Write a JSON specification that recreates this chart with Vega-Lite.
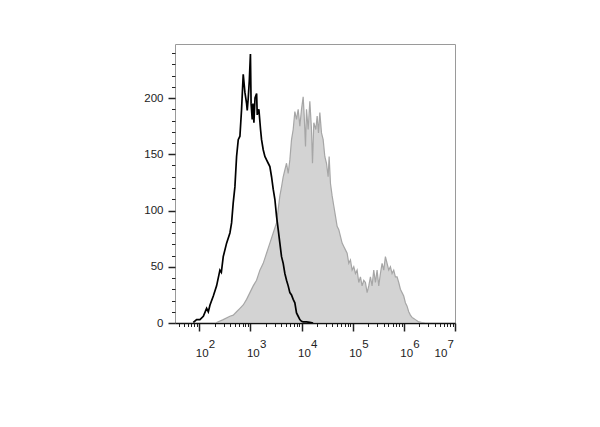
{
  "$schema": "https://vega.github.io/schema/vega-lite/v6.json",
  "width": 280,
  "height": 279,
  "autosize": {"type": "none"},
  "padding": {"left": 175, "top": 44, "right": 145, "bottom": 104},
  "background": "white",
  "config": {
    "view": {"stroke": "#9a9a9a", "strokeWidth": 1},
    "font": "Liberation Sans"
  },
  "data": {
    "values": [
      {"sample": "stained", "intensity": 218, "count": 0.5},
      {"sample": "stained", "intensity": 294, "count": 3},
      {"sample": "stained", "intensity": 397, "count": 6},
      {"sample": "stained", "intensity": 461, "count": 7},
      {"sample": "stained", "intensity": 536, "count": 10},
      {"sample": "stained", "intensity": 623, "count": 13},
      {"sample": "stained", "intensity": 723, "count": 16},
      {"sample": "stained", "intensity": 841, "count": 21},
      {"sample": "stained", "intensity": 977, "count": 27},
      {"sample": "stained", "intensity": 1134, "count": 33},
      {"sample": "stained", "intensity": 1318, "count": 38},
      {"sample": "stained", "intensity": 1531, "count": 47},
      {"sample": "stained", "intensity": 1778, "count": 53},
      {"sample": "stained", "intensity": 2066, "count": 62},
      {"sample": "stained", "intensity": 2400, "count": 71},
      {"sample": "stained", "intensity": 2788, "count": 80},
      {"sample": "stained", "intensity": 3239, "count": 89},
      {"sample": "stained", "intensity": 3491, "count": 101},
      {"sample": "stained", "intensity": 3763, "count": 113},
      {"sample": "stained", "intensity": 4056, "count": 121},
      {"sample": "stained", "intensity": 4372, "count": 130},
      {"sample": "stained", "intensity": 4712, "count": 136},
      {"sample": "stained", "intensity": 5079, "count": 142},
      {"sample": "stained", "intensity": 5474, "count": 133},
      {"sample": "stained", "intensity": 5900, "count": 145},
      {"sample": "stained", "intensity": 6359, "count": 163},
      {"sample": "stained", "intensity": 6854, "count": 172},
      {"sample": "stained", "intensity": 7388, "count": 188},
      {"sample": "stained", "intensity": 7962, "count": 181},
      {"sample": "stained", "intensity": 8582, "count": 190},
      {"sample": "stained", "intensity": 9250, "count": 175},
      {"sample": "stained", "intensity": 9970, "count": 190},
      {"sample": "stained", "intensity": 10746, "count": 201},
      {"sample": "stained", "intensity": 11236, "count": 185},
      {"sample": "stained", "intensity": 11937, "count": 157},
      {"sample": "stained", "intensity": 12484, "count": 190},
      {"sample": "stained", "intensity": 13455, "count": 172},
      {"sample": "stained", "intensity": 14506, "count": 197},
      {"sample": "stained", "intensity": 15631, "count": 172},
      {"sample": "stained", "intensity": 16350, "count": 142},
      {"sample": "stained", "intensity": 17357, "count": 178},
      {"sample": "stained", "intensity": 18992, "count": 172},
      {"sample": "stained", "intensity": 20170, "count": 184},
      {"sample": "stained", "intensity": 21418, "count": 169},
      {"sample": "stained", "intensity": 22752, "count": 187},
      {"sample": "stained", "intensity": 24522, "count": 169},
      {"sample": "stained", "intensity": 26424, "count": 163},
      {"sample": "stained", "intensity": 28475, "count": 148},
      {"sample": "stained", "intensity": 30690, "count": 142},
      {"sample": "stained", "intensity": 33073, "count": 130},
      {"sample": "stained", "intensity": 34596, "count": 148},
      {"sample": "stained", "intensity": 36734, "count": 124},
      {"sample": "stained", "intensity": 39592, "count": 113},
      {"sample": "stained", "intensity": 42676, "count": 104},
      {"sample": "stained", "intensity": 46000, "count": 95},
      {"sample": "stained", "intensity": 49573, "count": 86},
      {"sample": "stained", "intensity": 53436, "count": 83},
      {"sample": "stained", "intensity": 57598, "count": 77},
      {"sample": "stained", "intensity": 62087, "count": 71},
      {"sample": "stained", "intensity": 66910, "count": 68},
      {"sample": "stained", "intensity": 72127, "count": 65},
      {"sample": "stained", "intensity": 77732, "count": 62},
      {"sample": "stained", "intensity": 83784, "count": 53},
      {"sample": "stained", "intensity": 90298, "count": 56},
      {"sample": "stained", "intensity": 97343, "count": 47},
      {"sample": "stained", "intensity": 104905, "count": 50},
      {"sample": "stained", "intensity": 113084, "count": 44},
      {"sample": "stained", "intensity": 121880, "count": 47},
      {"sample": "stained", "intensity": 131382, "count": 36},
      {"sample": "stained", "intensity": 141579, "count": 41},
      {"sample": "stained", "intensity": 152615, "count": 33},
      {"sample": "stained", "intensity": 164471, "count": 38},
      {"sample": "stained", "intensity": 177296, "count": 36},
      {"sample": "stained", "intensity": 191120, "count": 27},
      {"sample": "stained", "intensity": 205970, "count": 33},
      {"sample": "stained", "intensity": 222000, "count": 41},
      {"sample": "stained", "intensity": 239270, "count": 33},
      {"sample": "stained", "intensity": 257900, "count": 47},
      {"sample": "stained", "intensity": 277970, "count": 36},
      {"sample": "stained", "intensity": 299630, "count": 47},
      {"sample": "stained", "intensity": 322920, "count": 33},
      {"sample": "stained", "intensity": 348100, "count": 44},
      {"sample": "stained", "intensity": 375180, "count": 53},
      {"sample": "stained", "intensity": 404430, "count": 47},
      {"sample": "stained", "intensity": 435860, "count": 59},
      {"sample": "stained", "intensity": 469850, "count": 53},
      {"sample": "stained", "intensity": 506340, "count": 47},
      {"sample": "stained", "intensity": 545810, "count": 50},
      {"sample": "stained", "intensity": 588210, "count": 44},
      {"sample": "stained", "intensity": 634070, "count": 47},
      {"sample": "stained", "intensity": 683340, "count": 41},
      {"sample": "stained", "intensity": 736620, "count": 41},
      {"sample": "stained", "intensity": 793870, "count": 36},
      {"sample": "stained", "intensity": 855750, "count": 30},
      {"sample": "stained", "intensity": 922260, "count": 27},
      {"sample": "stained", "intensity": 994030, "count": 24},
      {"sample": "stained", "intensity": 1071300, "count": 18},
      {"sample": "stained", "intensity": 1154800, "count": 15},
      {"sample": "stained", "intensity": 1244800, "count": 10},
      {"sample": "stained", "intensity": 1341600, "count": 7},
      {"sample": "stained", "intensity": 1446200, "count": 5},
      {"sample": "stained", "intensity": 1558600, "count": 4},
      {"sample": "stained", "intensity": 1680100, "count": 3},
      {"sample": "stained", "intensity": 1810700, "count": 2},
      {"sample": "stained", "intensity": 1952000, "count": 1},
      {"sample": "stained", "intensity": 2200000, "count": 0.5},
      {"sample": "stained", "intensity": 2556000, "count": 0},
      {"sample": "control", "intensity": 76.4, "count": 0.5},
      {"sample": "control", "intensity": 88.7, "count": 3},
      {"sample": "control", "intensity": 103, "count": 3},
      {"sample": "control", "intensity": 120, "count": 6},
      {"sample": "control", "intensity": 139, "count": 13},
      {"sample": "control", "intensity": 150, "count": 10},
      {"sample": "control", "intensity": 162, "count": 16},
      {"sample": "control", "intensity": 188, "count": 24},
      {"sample": "control", "intensity": 218, "count": 33},
      {"sample": "control", "intensity": 253, "count": 47},
      {"sample": "control", "intensity": 270, "count": 45},
      {"sample": "control", "intensity": 294, "count": 59},
      {"sample": "control", "intensity": 342, "count": 71},
      {"sample": "control", "intensity": 397, "count": 80},
      {"sample": "control", "intensity": 428, "count": 89},
      {"sample": "control", "intensity": 461, "count": 107},
      {"sample": "control", "intensity": 497, "count": 121},
      {"sample": "control", "intensity": 536, "count": 148},
      {"sample": "control", "intensity": 578, "count": 163},
      {"sample": "control", "intensity": 623, "count": 166},
      {"sample": "control", "intensity": 671, "count": 190},
      {"sample": "control", "intensity": 723, "count": 221},
      {"sample": "control", "intensity": 780, "count": 205},
      {"sample": "control", "intensity": 841, "count": 195},
      {"sample": "control", "intensity": 866, "count": 189},
      {"sample": "control", "intensity": 906, "count": 200},
      {"sample": "control", "intensity": 950, "count": 215},
      {"sample": "control", "intensity": 1000, "count": 239},
      {"sample": "control", "intensity": 1030, "count": 195},
      {"sample": "control", "intensity": 1084, "count": 181},
      {"sample": "control", "intensity": 1120, "count": 195},
      {"sample": "control", "intensity": 1169, "count": 178},
      {"sample": "control", "intensity": 1230, "count": 200},
      {"sample": "control", "intensity": 1321, "count": 204},
      {"sample": "control", "intensity": 1358, "count": 185},
      {"sample": "control", "intensity": 1463, "count": 190},
      {"sample": "control", "intensity": 1577, "count": 172},
      {"sample": "control", "intensity": 1650, "count": 163},
      {"sample": "control", "intensity": 1778, "count": 154},
      {"sample": "control", "intensity": 1917, "count": 148},
      {"sample": "control", "intensity": 2066, "count": 145},
      {"sample": "control", "intensity": 2227, "count": 142},
      {"sample": "control", "intensity": 2400, "count": 139},
      {"sample": "control", "intensity": 2587, "count": 130},
      {"sample": "control", "intensity": 2788, "count": 119},
      {"sample": "control", "intensity": 3005, "count": 110},
      {"sample": "control", "intensity": 3239, "count": 95},
      {"sample": "control", "intensity": 3491, "count": 83},
      {"sample": "control", "intensity": 3763, "count": 71},
      {"sample": "control", "intensity": 4056, "count": 59},
      {"sample": "control", "intensity": 4372, "count": 53},
      {"sample": "control", "intensity": 4712, "count": 44},
      {"sample": "control", "intensity": 5079, "count": 38},
      {"sample": "control", "intensity": 5474, "count": 33},
      {"sample": "control", "intensity": 5900, "count": 27},
      {"sample": "control", "intensity": 6359, "count": 25},
      {"sample": "control", "intensity": 6854, "count": 21},
      {"sample": "control", "intensity": 7388, "count": 18},
      {"sample": "control", "intensity": 7962, "count": 9},
      {"sample": "control", "intensity": 8582, "count": 6},
      {"sample": "control", "intensity": 9250, "count": 3},
      {"sample": "control", "intensity": 9970, "count": 1.5},
      {"sample": "control", "intensity": 10746, "count": 1},
      {"sample": "control", "intensity": 12484, "count": 1},
      {"sample": "control", "intensity": 14506, "count": 0.5},
      {"sample": "control", "intensity": 16852, "count": 0}
    ]
  },
  "encoding": {
    "y": {
      "field": "count",
      "type": "quantitative",
      "scale": {"domain": [0, 248], "nice": false, "zero": true},
      "axis": {
        "title": null,
        "grid": false,
        "domain": false,
        "values": [0, 10, 20, 30, 40, 50, 60, 70, 80, 90, 100, 110, 120, 130, 140, 150, 160, 170, 180, 190, 200, 210, 220, 230, 240],
        "labelExpr": "datum.value % 50 == 0 ? datum.label : ''",
        "labelFontSize": 11.5,
        "labelColor": "#222222",
        "labelPadding": 5,
        "labelOverlap": false,
        "tickColor": "#222222",
        "tickSize": {"condition": {"test": "datum.value % 50 == 0", "value": 7}, "value": 3.5},
        "tickWidth": {"condition": {"test": "datum.value % 50 == 0", "value": 1.5}, "value": 1}
      }
    }
  },
  "resolve": {"axis": {"x": "independent"}},
  "layer": [
    {
      "transform": [{"filter": "datum.sample == 'stained'"}],
      "mark": {"type": "area", "fill": "#d3d3d3", "stroke": "#a6a6a6", "strokeWidth": 1.2, "clip": true},
      "encoding": {
        "x": {
          "field": "intensity",
          "type": "quantitative",
          "scale": {"type": "log", "domain": [33.5, 10000000], "nice": false},
          "axis": {
            "orient": "bottom",
            "title": null,
            "grid": false,
            "values": [40, 50, 60, 70, 80, 90, 100, 200, 300, 400, 500, 600, 700, 800, 900, 1000, 2000, 3000, 4000, 5000, 6000, 7000, 8000, 9000, 10000, 20000, 30000, 40000, 50000, 60000, 70000, 80000, 90000, 100000, 200000, 300000, 400000, 500000, 600000, 700000, 800000, 900000, 1000000, 2000000, 3000000, 4000000, 5000000, 6000000, 7000000, 8000000, 9000000, 10000000],
            "labelExpr": "abs(log(datum.value)/LN10 - round(log(datum.value)/LN10)) < 0.01 ? '10' : ''",
            "labelAlign": "left",
            "labelBaseline": "middle",
            "labelOffset": {"condition": {"test": "datum.value > 5000000", "value": -21}, "value": -4},
            "labelFontSize": 11.5,
            "labelColor": "#222222",
            "labelPadding": 22,
            "labelOverlap": false,
            "labelBound": false,
            "labelFlush": false,
            "domainColor": "#111111",
            "domainWidth": 1.5,
            "tickColor": "#222222",
            "tickSize": {"condition": {"test": "abs(log(datum.value)/LN10 - round(log(datum.value)/LN10)) < 0.01", "value": 8}, "value": 3.5},
            "tickWidth": {"condition": {"test": "abs(log(datum.value)/LN10 - round(log(datum.value)/LN10)) < 0.01", "value": 1.5}, "value": 1}
          }
        }
      }
    },
    {
      "transform": [{"filter": "datum.sample == 'control'"}],
      "mark": {"type": "line", "color": "#000000", "strokeWidth": 1.7, "clip": true},
      "encoding": {
        "x": {
          "field": "intensity",
          "type": "quantitative",
          "scale": {"type": "log", "domain": [33.5, 10000000], "nice": false},
          "axis": {
            "orient": "bottom",
            "title": null,
            "grid": false,
            "domain": false,
            "ticks": false,
            "values": [100, 1000, 10000, 100000, 1000000, 10000000],
            "labelExpr": "round(log(datum.value)/LN10)",
            "labelAlign": "left",
            "labelBaseline": "middle",
            "labelOffset": {"condition": {"test": "datum.value > 5000000", "value": -8}, "value": 9},
            "labelFontSize": 11.5,
            "labelColor": "#222222",
            "labelPadding": 21,
            "labelOverlap": false,
            "labelBound": false,
            "labelFlush": false
          }
        }
      }
    }
  ]
}
